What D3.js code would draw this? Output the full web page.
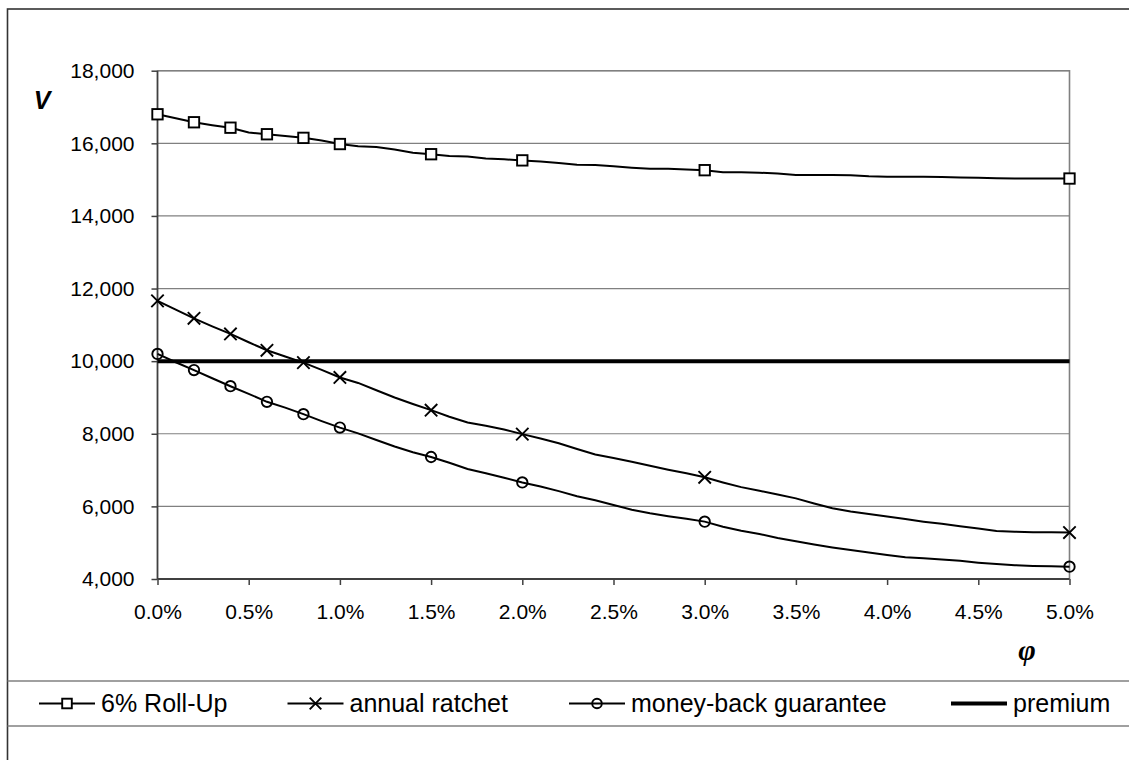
<!DOCTYPE html>
<html>
<head>
<meta charset="utf-8">
<script src="https://cdn.jsdelivr.net/npm/d3@7"></script>
<style>
  html, body { margin: 0; padding: 0; background: #fff; }
  svg { display: block; }
  text { font-family: "Liberation Sans", Arial, sans-serif; fill: #000; }
</style>
</head>
<body>
<svg id="chart" width="1129" height="760"></svg>
<script>
// ---- data ----
const phi = [0.0,0.1,0.2,0.3,0.4,0.5,0.6,0.7,0.8,0.9,1.0,1.1,1.2,1.3,1.4,1.5,1.6,1.7,1.8,1.9,2.0,
             2.1,2.2,2.3,2.4,2.5,2.6,2.7,2.8,2.9,3.0,3.1,3.2,3.3,3.4,3.5,3.6,3.7,3.8,3.9,4.0,
             4.1,4.2,4.3,4.4,4.5,4.6,4.7,4.8,4.9,5.0];
const rollUp = [16800,16690,16580,16500,16430,16300,16250,16200,16150,16080,15980,
                15920,15900,15830,15740,15700,15650,15640,15580,15560,15530,
                15500,15460,15410,15400,15370,15330,15300,15300,15280,15260,
                15200,15200,15190,15170,15130,15130,15130,15120,15090,15080,
                15080,15080,15070,15060,15050,15040,15030,15030,15030,15030];
const annualRatchet = [11660,11420,11180,10960,10750,10520,10300,10130,9960,9760,9550,
                       9400,9200,9000,8820,8650,8470,8310,8220,8120,7990,
                       7870,7740,7580,7430,7330,7230,7120,7010,6910,6800,
                       6660,6530,6430,6330,6220,6080,5950,5860,5790,5720,
                       5650,5580,5520,5450,5390,5320,5300,5290,5285,5280];
const moneyBack = [10200,9970,9755,9530,9310,9100,8880,8720,8540,8350,8170,
                   8010,7830,7650,7490,7360,7200,7030,6910,6790,6660,
                   6550,6420,6280,6170,6040,5910,5810,5730,5660,5580,
                   5440,5330,5240,5130,5040,4950,4870,4800,4730,4660,
                   4600,4570,4540,4500,4450,4410,4380,4360,4350,4340];
const premium = [10000, 10000];
const premiumPhi = [0.0, 5.0];
const markerPhi = [0.0,0.2,0.4,0.6,0.8,1.0,1.5,2.0,3.0,5.0];
const xTicks = [0.0,0.5,1.0,1.5,2.0,2.5,3.0,3.5,4.0,4.5,5.0];
const yTicks = [4000,6000,8000,10000,12000,14000,16000,18000];
const seriesNames = ["6% Roll-Up","annual ratchet","money-back guarantee","premium"];
const markerTypes = ["square","cross","circle","none"];

// ---- layout ----
const svg = d3.select("#chart");
const L = 157.5, R = 1069.5, T = 70.7, B = 579;
const x = d3.scaleLinear().domain([0, 5]).range([L, R]);
const y = d3.scaleLinear().domain([4000, 18000]).range([B, T]);

// outer frame
svg.append("rect").attr("x", 7.5).attr("y", 9).attr("width", 1130).attr("height", 760)
  .attr("fill", "none").attr("stroke", "#333").attr("stroke-width", 1.6);

// gridlines
svg.append("g").selectAll("line").data(yTicks.filter(v => v > 4000)).join("line")
  .attr("x1", L).attr("x2", R).attr("y1", d => y(d)).attr("y2", d => y(d))
  .attr("stroke", "#808080").attr("stroke-width", 1.2);
// plot border top/right
svg.append("path").attr("d", `M${L},${T}H${R}V${B}`).attr("fill", "none")
  .attr("stroke", "#808080").attr("stroke-width", 1.6);

// axes
const yAxis = d3.axisLeft(y).tickValues(yTicks).tickSize(6).tickPadding(17)
  .tickFormat(d3.format(",.0f"));
const gy = svg.append("g").attr("transform", `translate(${L},0)`).call(yAxis);
const xAxis = d3.axisBottom(x).tickValues(xTicks).tickSize(6).tickPadding(19)
  .tickFormat(d => d.toFixed(1) + "%");
const gx = svg.append("g").attr("transform", `translate(0,${B})`).call(xAxis);
[gx, gy].forEach(g => {
  g.select(".domain").attr("stroke", "#404040").attr("stroke-width", 1.8);
  g.selectAll(".tick line").attr("stroke", "#404040").attr("stroke-width", 1.5);
  g.selectAll(".tick text").attr("font-size", 21).attr("fill", "#000")
    .attr("font-family", "'Liberation Sans', Arial, sans-serif");
});
gx.select(".domain").attr("d", `M${L},0H${R}`);
gy.select(".domain").attr("d", `M0,${B}V${T}`);

// axis titles
svg.append("text").attr("x", 42).attr("y", 109).attr("text-anchor", "middle")
  .attr("font-size", 25).attr("font-weight", "bold").attr("font-style", "italic").text("V");
svg.append("text").attr("x", 1027).attr("y", 660).attr("text-anchor", "middle")
  .style("font-family", "'Liberation Serif', 'Times New Roman', serif")
  .attr("font-size", 30).attr("font-weight", "bold").attr("font-style", "italic").text("φ");

// series
const line = d3.line().x(d => x(d[0])).y(d => y(d[1]));
const series = [rollUp, annualRatchet, moneyBack];
series.forEach((vals, i) => {
  const pts = phi.map((p, k) => [p, vals[k]]);
  svg.append("path").datum(pts).attr("d", line).attr("fill", "none")
    .attr("stroke", "#000").attr("stroke-width", 2);
});
// premium
svg.append("path").datum(premiumPhi.map((p, k) => [p, premium[k]])).attr("d", line)
  .attr("fill", "none").attr("stroke", "#000").attr("stroke-width", 4);

function drawMarker(g, type, cx, cy, s) {
  if (type === "square") {
    g.append("rect").attr("x", cx - s).attr("y", cy - s).attr("width", 2 * s).attr("height", 2 * s)
      .attr("fill", "#fff").attr("stroke", "#000").attr("stroke-width", 1.9);
  } else if (type === "circle") {
    g.append("circle").attr("cx", cx).attr("cy", cy).attr("r", s)
      .attr("fill", "none").attr("stroke", "#000").attr("stroke-width", 1.9);
  } else if (type === "cross") {
    const c = s + 1;
    g.append("path").attr("d", `M${cx-c},${cy-c}L${cx+c},${cy+c}M${cx-c},${cy+c}L${cx+c},${cy-c}`)
      .attr("stroke", "#000").attr("stroke-width", 1.9);
  }
}
const mg = svg.append("g");
series.forEach((vals, i) => {
  markerPhi.forEach(p => {
    const k = phi.indexOf(p);
    drawMarker(mg, markerTypes[i], x(p), y(vals[k]), 5.2);
  });
});

// legend
const legTop = 681, legBot = 726, legY = 703.5;
svg.append("line").attr("x1", 7.5).attr("x2", 1129).attr("y1", legTop).attr("y2", legTop)
  .attr("stroke", "#808080").attr("stroke-width", 1.6);
svg.append("line").attr("x1", 7.5).attr("x2", 1129).attr("y1", legBot).attr("y2", legBot)
  .attr("stroke", "#808080").attr("stroke-width", 1.6);
const legX = [39, 287.5, 569, 951];
seriesNames.forEach((name, i) => {
  const x0 = legX[i], x1 = x0 + 56;
  const lg = svg.append("g");
  lg.append("line").attr("x1", x0).attr("x2", x1).attr("y1", legY).attr("y2", legY)
    .attr("stroke", "#000").attr("stroke-width", i === 3 ? 4 : 2);
  drawMarker(lg, markerTypes[i], (x0 + x1) / 2, legY, 4.8);
  lg.append("text").attr("x", x1 + 6).attr("y", legY).attr("dy", "0.35em")
    .attr("font-size", 25).text(name);
});
</script>
</body>
</html>
